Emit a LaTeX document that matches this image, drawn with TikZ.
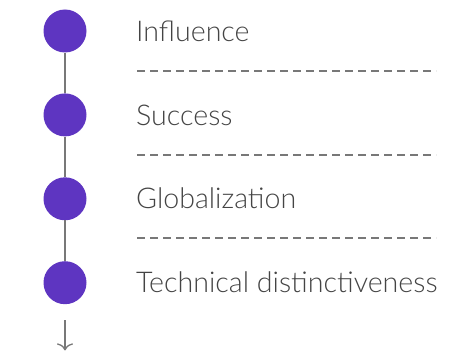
\documentclass[tikz,border=0pt]{standalone}
\usepackage{fontspec}
\setmainfont{Lato Light}
\usepackage{xcolor}
\usetikzlibrary{arrows.meta,calc,positioning}
\definecolor{dotpurple}{RGB}{94,53,193}
\definecolor{linegray}{RGB}{120,120,120}
\definecolor{textgray}{RGB}{68,68,68}
\tikzset{
        dot/.style = {circle, fill=dotpurple, minimum size=43pt, inner sep=0pt},
        label/.style = {anchor=base west, text=textgray, inner sep=0pt,
            font=\fontsize{28.6}{32}\selectfont},
        link/.style = {draw, linegray, line width=2.5pt},
        sep/.style = {draw, linegray, line width=1.3pt, dash pattern=on 8pt off 5pt},
        arrow/.style = {draw, linegray, line width=1.3pt, -{To[length=7pt,width=16pt]}},
    }

\begin{document}
\begin{tikzpicture}[x=1pt,y=-1pt]
    \useasboundingbox (0,0) rectangle (467,353);

    \node[dot] (c1) at (65,31) {};
    \node[dot, below=40.5pt of c1] (c2) {};
    \node[dot, below=40.5pt of c2] (c3) {};
    \node[dot, below=40.5pt of c3] (c4) {};

    \node[label] (t1) at (136,42) {Influence};
    \node[label] (t2) at (136,126) {Success};
    \node[label] (t3) at (136,209) {Globalization};
    \node[label] (t4) at (136,293) {Technical distinctiveness};

    \coordinate[below=16pt of c4] (a1);
    \coordinate[below=46pt of c4] (a2);

    \draw[link] (c1) -- (c2);
    \draw[link] (c2) -- (c3);
    \draw[link] (c3) -- (c4);
    \draw[arrow] (a1) -- (a2);

    % separators
    \foreach \y in {71,155,238}
        \draw[sep] (137,\y) -- (436,\y);
\end{tikzpicture}
\end{document}
